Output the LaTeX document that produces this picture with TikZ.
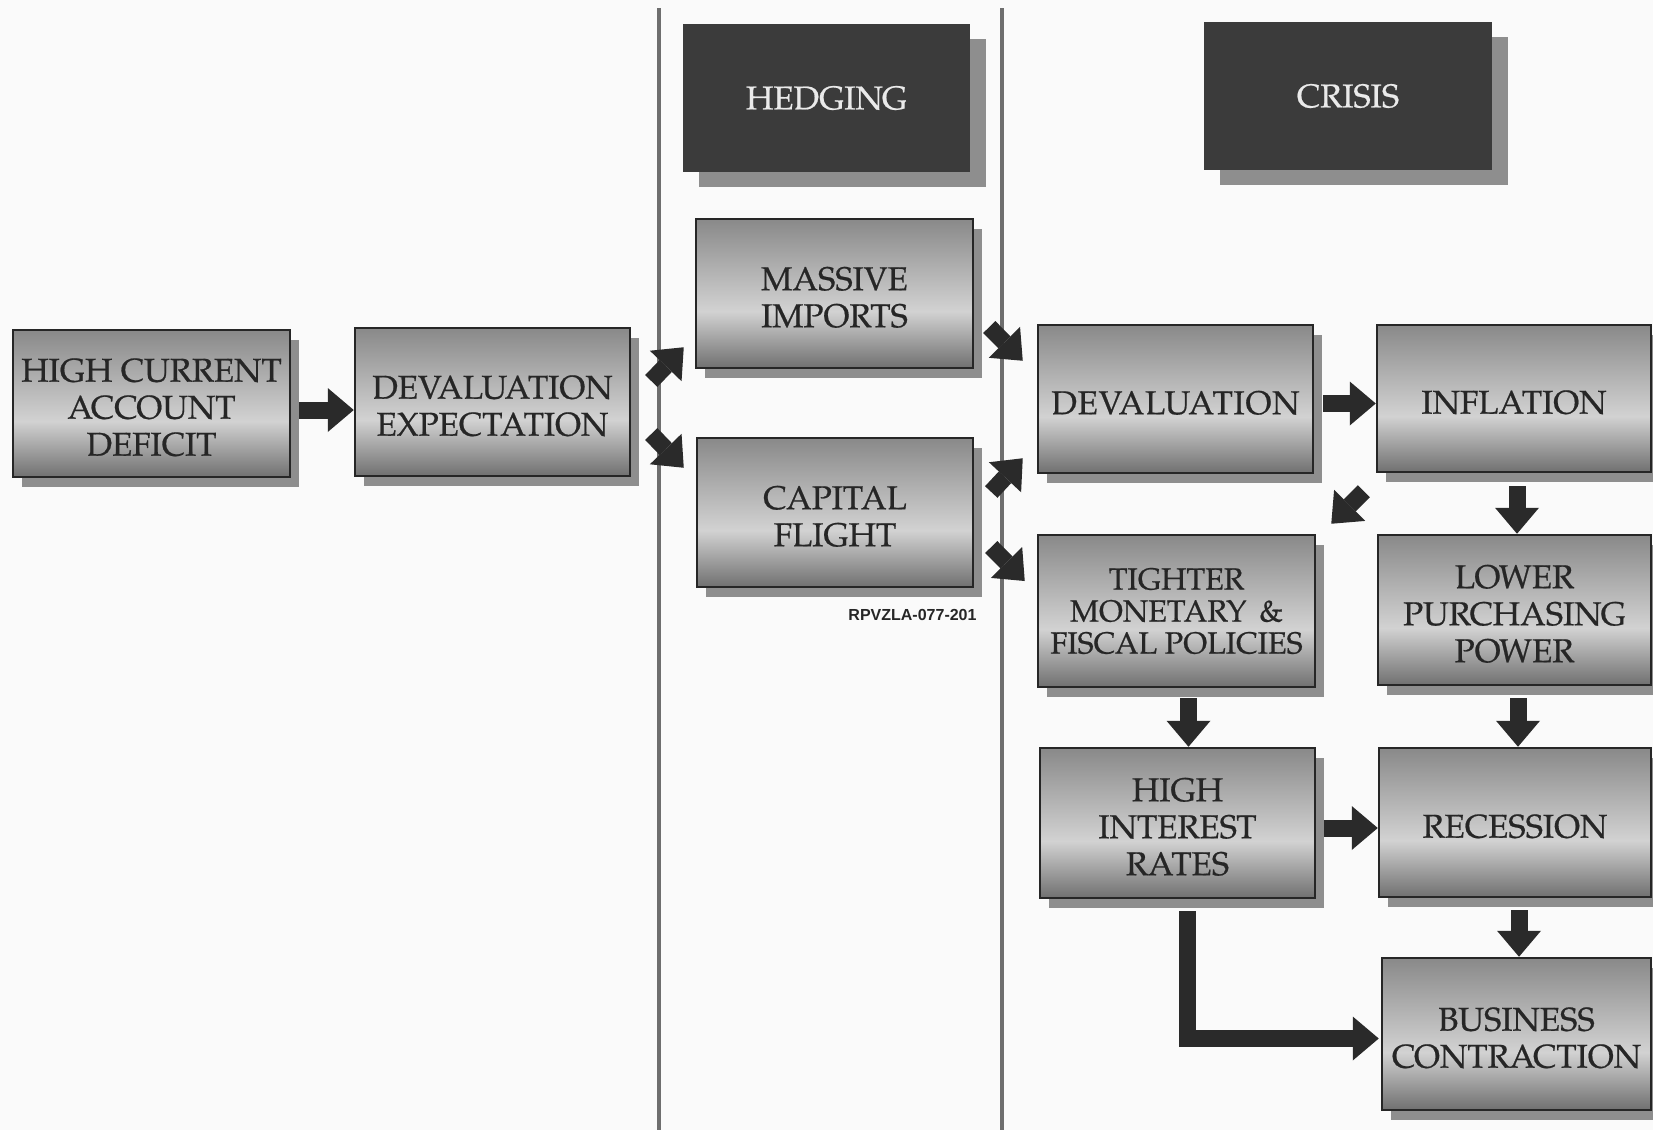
\documentclass[tikz,border=0pt]{standalone}
\usepackage{fontspec}
\setmainfont{texgyrepagella}[Extension=.otf, UprightFont=*-regular, BoldFont=*-bold, ItalicFont=*-italic, BoldItalicFont=*-bolditalic]
\newfontfamily\boxfont{texgyrepagella-regular.otf}[FakeBold=0.6]
\newfontfamily\wideboxfont{texgyrepagella-regular.otf}[FakeBold=0.6, LetterSpace=2.4]
\newfontfamily\tagfont{Liberation Sans}
\usetikzlibrary{shadows,arrows.meta,calc}

\definecolor{ink}{HTML}{262626}
\definecolor{arrowink}{HTML}{2A2A2A}
\definecolor{rulegray}{HTML}{6E6E6E}
\definecolor{shadowgray}{HTML}{8E8E8E}
\definecolor{headfill}{HTML}{3B3B3B}
\definecolor{headtext}{HTML}{EAEAEA}
\definecolor{shadetop}{HTML}{898989}
\definecolor{shademid}{HTML}{D2D2D2}
\definecolor{shadebot}{HTML}{707070}
\definecolor{paper}{HTML}{FAFAFA}

% light band a little below the middle, darker top and bottom
\pgfdeclareverticalshading{boxshade}{100bp}{color(0bp)=(shadebot); color(25bp)=(shadebot); color(44bp)=(shademid); color(75bp)=(shadetop); color(100bp)=(shadetop)}

% extra room above the first line, so the lettering sits a little low in its box
\newcommand\capstrut{\rule{0pt}{31pt}}

\tikzset{
  gbox/.style={draw=ink, line width=2.5pt, shading=boxshade, text=ink,
    align=center, inner sep=0pt, minimum width=276pt, minimum height=149pt,
    font=\boxfont\fontsize{33}{37}\selectfont,
    drop shadow={shadow xshift=9pt, shadow yshift=-10pt, fill=shadowgray, opacity=1}},
  hbox/.style={fill=headfill, text=headtext,
    align=center, inner sep=0pt, minimum width=287pt, minimum height=148pt,
    font=\boxfont\fontsize{33}{37}\selectfont,
    drop shadow={shadow xshift=16pt, shadow yshift=-15pt, fill=shadowgray, opacity=1}},
  blk/.style={draw=arrowink, line width=17pt, line join=miter,
    -{Triangle[length=26pt, width=44pt, line width=0pt]}},
  sepline/.style={draw=rulegray, line width=3.5pt}
}

\begin{document}
\begin{tikzpicture}[x=1pt, y=-1pt]
  \useasboundingbox (0,0) rectangle (1653,1130);
  \fill[paper] (0,0) rectangle (1653,1130);
  \clip (0,0) rectangle (1653,1130);

  % column separators
  \draw[sepline] (659,8) -- (659,1130);
  \draw[sepline] (1002,8) -- (1002,1130);

  % headers
  \node[hbox] (hedg) at (826.5,98) {HEDGING};
  \node[hbox, minimum width=288pt] (crisis) at (1348,96) {CRISIS};

  % causes
  \node[gbox, minimum width=277pt, minimum height=147pt] (hc) at (151.5,403.5) {\capstrut HIGH CURRENT\\ACCOUNT\\DEFICIT};
  \node[gbox, minimum width=275pt, minimum height=148pt] (de) at (492.5,402) {\capstrut DEVALUATION\\EXPECTATION};

  % hedging column
  \node[gbox, minimum width=277pt] (mi) at (834.5,293.5) {\capstrut MASSIVE\\IMPORTS};
  \node[gbox] (cf) at (835,512.5) {\capstrut CAPITAL\\FLIGHT};
  \node[font=\tagfont\bfseries\fontsize{16}{18}\selectfont, text=ink, inner sep=0pt] (tag) at (912.5,614.5) {RPVZLA-077-201};

  % crisis column
  \node[gbox, minimum width=275pt, minimum height=148pt, font=\wideboxfont\fontsize{33}{37}\selectfont] (dv) at (1175.5,399) {\capstrut DEVALUATION};
  \node[gbox, minimum width=274pt, minimum height=147pt] (inf) at (1514,398.5) {\capstrut INFLATION};
  \node[gbox, minimum width=277pt, minimum height=152pt, font=\boxfont\fontsize{30.5}{32}\selectfont] (tm) at (1176.5,611) {TIGHTER\\MONETARY \,\&\\FISCAL POLICIES};
  \node[gbox, minimum width=273pt, minimum height=150pt] (lpp) at (1514.5,610) {\capstrut LOWER\\PURCHASING\\POWER};
  \node[gbox, minimum width=275pt, minimum height=150pt] (hir) at (1177.5,823) {\capstrut HIGH\\INTEREST\\RATES};
  \node[gbox, minimum width=272pt] (rec) at (1515,822.5) {\capstrut RECESSION};
  \node[gbox, minimum width=269pt, minimum height=152pt] (bc) at (1516.5,1034) {\capstrut BUSINESS\\CONTRACTION};

  % connectors
  \draw[blk] ([shift={(8,6.5)}]hc.east) -- ([shift={(0,8)}]de.west);
  \draw[blk] ([shift={(20,-21)}]de.east) -- ([shift={(-11,-22)}]mi.south west);
  \draw[blk] ([shift={(20,32)}]de.east) -- ([shift={(-12,31)}]cf.north west);
  \draw[blk] ([shift={(15,33.5)}]mi.east) -- ([shift={(-14,37)}]dv.north west);
  \draw[blk] ([shift={(17,-20.5)}]cf.east) -- ([shift={(-14,-16)}]dv.south west);
  \draw[blk] ([shift={(17,34.5)}]cf.east) -- ([shift={(-12,-30)}]tm.west);
  \draw[blk] ([shift={(9,4.5)}]dv.east) -- ([shift={(0,5)}]inf.west);
  \draw[blk] ([shift={(-12,18)}]inf.south west) -- ([shift={(15,-10)}]tm.north east);
  \draw[blk] ([shift={(3,13)}]inf.south) -- ([shift={(2.5,0)}]lpp.north);
  \draw[blk] ([shift={(12,10)}]tm.south) -- ([shift={(11,0)}]hir.north);
  \draw[blk] ([shift={(8,5)}]hir.east) -- ([shift={(0,5.5)}]rec.west);
  \draw[blk] ([shift={(3.5,12)}]lpp.south) -- ([shift={(3,0)}]rec.north);
  \draw[blk] ([shift={(4,12)}]rec.south) -- ([shift={(2.5,0)}]bc.north);
  \draw[blk] ([shift={(10,12)}]hir.south) |- ([shift={(-2,4.5)}]bc.west);
\end{tikzpicture}
\end{document}
